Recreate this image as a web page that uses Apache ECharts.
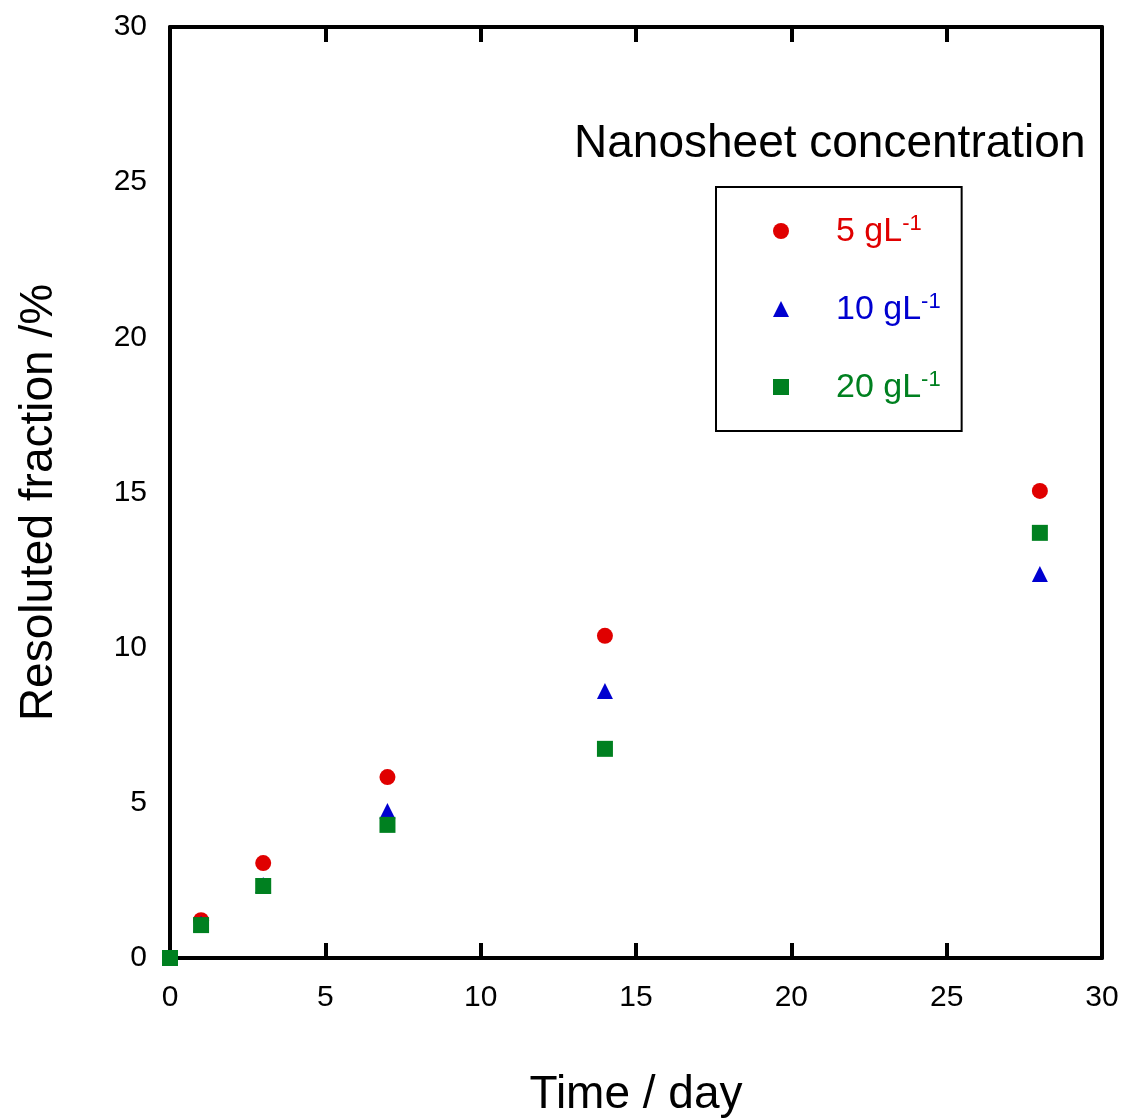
<!DOCTYPE html>
<html>
<head>
<meta charset="utf-8">
<script src="https://cdn.jsdelivr.net/npm/echarts@6/dist/echarts.min.js"></script>
<style>
  html, body { margin: 0; padding: 0; background: #fff; }
  #chart { width: 1124px; height: 1120px; }
</style>
</head>
<body>
<div id="chart"></div>
<script>
// Resoluted fraction over time for three nanosheet concentrations
const days = [0, 1, 3, 7, 14, 28];
const frac5 = [0, 1.22, 3.06, 5.83, 10.38, 15.05];
const frac10 = [0, 1.10, 2.35, 4.74, 8.60, 12.37];
const frac20 = [0, 1.06, 2.32, 4.29, 6.74, 13.70];

const seriesNames = ['5 gL-1', '10 gL-1', '20 gL-1'];
const seriesLabels = ['5 gL', '10 gL', '20 gL'];
const seriesKeys = ['r', 'b', 'g'];
const seriesColors = ['#e00000', '#0000d0', '#008020'];
const seriesSymbols = ['circle', 'triangle', 'rect'];
const seriesValues = [frac5, frac10, frac20];

const axisTicks = [0, 5, 10, 15, 20, 25, 30];

const FONT = '"Liberation Sans", Arial, Helvetica, sans-serif';

const rich = {};
seriesKeys.forEach((k, i) => {
  rich[k] = { color: seriesColors[i], fontSize: 34, lineHeight: 36, fontFamily: FONT, padding: [0, 0, 0, 42], verticalAlign: 'bottom' };
  rich[k + 's'] = { color: seriesColors[i], fontSize: 22, lineHeight: 36, fontFamily: FONT, verticalAlign: 'top' };
});

const lineStyle = { color: '#000', width: 4 };

const chart = echarts.init(document.getElementById('chart'), null, { renderer: 'canvas' });
chart.setOption({
  animation: false,
  backgroundColor: '#fff',
  title: {
    text: 'Nanosheet concentration',
    left: 574,
    top: 121,
    padding: 0,
    textStyle: { fontSize: 46, fontWeight: 'normal', color: '#000', fontFamily: FONT }
  },
  legend: {
    left: 716,
    top: 187,
    orient: 'vertical',
    data: seriesNames,
    padding: [26, 21, 26, 57],
    itemGap: 42,
    itemWidth: 16,
    itemHeight: 16,
    borderColor: '#000',
    borderWidth: 2,
    borderRadius: 0,
    formatter: function (name) {
      const i = seriesNames.indexOf(name);
      const k = seriesKeys[i];
      return '{' + k + '|' + seriesLabels[i] + '}{' + k + 's|-1}';
    },
    textStyle: { rich: rich }
  },
  grid: { left: 170, right: 22, top: 27, bottom: 162, containLabel: false, outerBoundsMode: 'none' },
  xAxis: [
    {
      type: 'value',
      position: 'bottom',
      min: 0, max: 30, interval: 5,
      name: 'Time / day',
      nameLocation: 'middle',
      nameGap: 114,
      nameTextStyle: { fontSize: 46, color: '#000', fontFamily: FONT },
      axisLine: { show: true, onZero: false, lineStyle: lineStyle },
      axisTick: { show: true, inside: true, length: 15, lineStyle: lineStyle },
      axisLabel: {
        fontSize: 30, color: '#000', fontFamily: FONT, margin: 25,
        formatter: v => axisTicks.includes(v) ? String(v) : ''
      },
      splitLine: { show: false }
    },
    {
      type: 'value',
      position: 'top',
      min: 0, max: 30, interval: 5,
      axisLine: { show: true, onZero: false, lineStyle: lineStyle },
      axisTick: { show: true, inside: true, length: 15, lineStyle: lineStyle },
      axisLabel: { show: false },
      splitLine: { show: false }
    }
  ],
  yAxis: [
    {
      type: 'value',
      position: 'left',
      min: 0, max: 30, interval: 5,
      name: 'Resoluted fraction /%',
      nameLocation: 'middle',
      nameGap: 108,
      nameTextStyle: { fontSize: 46, color: '#000', fontFamily: FONT, padding: [0, 20, 0, 0] },
      axisLine: { show: true, onZero: false, lineStyle: lineStyle },
      axisTick: { show: false },
      axisLabel: {
        fontSize: 30, color: '#000', fontFamily: FONT, margin: 23,
        formatter: v => axisTicks.includes(v) ? String(v) : ''
      },
      splitLine: { show: false }
    },
    {
      type: 'value',
      position: 'right',
      min: 0, max: 30, interval: 5,
      axisLine: { show: true, onZero: false, lineStyle: lineStyle },
      axisTick: { show: false },
      axisLabel: { show: false },
      splitLine: { show: false }
    }
  ],
  series: seriesNames.map((name, i) => ({
    name: name,
    type: 'scatter',
    xAxisIndex: 0,
    yAxisIndex: 0,
    symbol: seriesSymbols[i],
    symbolSize: 16,
    itemStyle: { color: seriesColors[i], opacity: 1 },
    clip: false,
    z: 2 + i,
    data: days.map((d, j) => [d, seriesValues[i][j]])
  }))
});
</script>
</body>
</html>
